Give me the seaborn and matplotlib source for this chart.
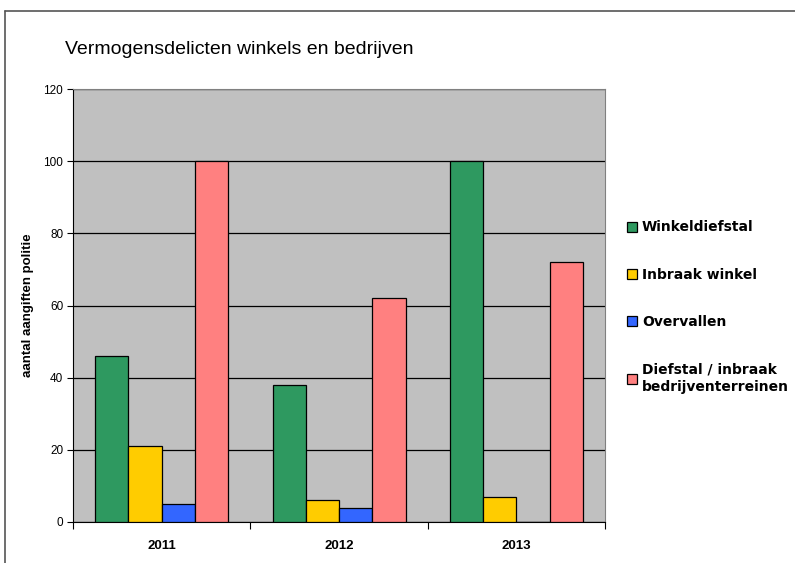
import numpy as np
import pandas as pd
import matplotlib
matplotlib.use('Agg')
import matplotlib.pyplot as plt
from matplotlib.lines import Line2D
import seaborn as sns

# ── Data ─────────────────────────────────────────────────────
years      = ['2011', '2012', '2013']
categories = ['Winkeldiefstal', 'Inbraak winkel', 'Overvallen',
              'Diefstal / inbraak\nbedrijventerreinen']
winkeldiefstal = [46, 38, 100]
inbraak_winkel = [21, 6, 7]
overvallen     = [5, 4, 0]
bedrijven      = [100, 62, 72]
colors = ['#2E9960', '#FFCC00', '#3366FF', '#FF8080']

df = pd.DataFrame({
    'jaar': years * 4,
    'soort': np.repeat(categories, len(years)),
    'aantal': winkeldiefstal + inbraak_winkel + overvallen + bedrijven,
})

sns.set_style('white')
plt.rcParams['font.family'] = ['Liberation Sans', 'DejaVu Sans']
plt.rcParams['text.color'] = 'black'
plt.rcParams['xtick.color'] = 'black'
plt.rcParams['ytick.color'] = 'black'
plt.rcParams['axes.labelcolor'] = 'black'

fig = plt.figure(figsize=(7.95, 5.63), dpi=100)
ax = fig.add_axes([73 / 795, 41 / 563, 532 / 795, 433 / 563])
ax.set_facecolor('#C0C0C0')

sns.barplot(data=df, x='jaar', y='aantal', hue='soort', palette=colors,
            saturation=1, width=0.75, gap=0, edgecolor='black',
            linewidth=0.9, ax=ax, zorder=3)

ax.set_ylim(0, 120)
ax.set_xlim(-0.5, 2.5)
ax.set_yticks(range(0, 121, 20))
ax.yaxis.grid(True, color='black', linewidth=0.9, zorder=1)
ax.set_axisbelow(True)
for s in ['top', 'right']:
    ax.spines[s].set_color('#808080')
    ax.spines[s].set_linewidth(0.8)
ax.spines['left'].set_color('black')
ax.spines['bottom'].set_color('black')

ax.tick_params(axis='y', direction='out', length=4, width=0.8, labelsize=8.5,
               left=True, pad=3)
ax.tick_params(axis='x', which='major', length=0, labelsize=9.5, pad=13)
ax.set_xticks([-0.5, 0.5, 1.5, 2.5], minor=True)
ax.tick_params(axis='x', which='minor', direction='out', length=5, width=0.8,
               bottom=True)
for lbl in ax.get_xticklabels():
    lbl.set_fontweight('bold')

ax.set_xlabel('')
ax.set_ylabel('aantal aangiften politie', fontsize=9.5, fontweight='bold',
              labelpad=7)

fig.text(65 / 795, 1 - 50 / 563, 'Vermogensdelicten winkels en bedrijven',
         fontsize=14, va='center', ha='left')

handles, labels = ax.get_legend_handles_labels()
ax.get_legend().remove()
leg = fig.legend(handles, labels, loc='upper left',
                 bbox_to_anchor=(614 / 795, 1 - 208 / 563),
                 frameon=False, handlelength=0.75, handleheight=0.75,
                 handletextpad=0.35, labelspacing=2.4,
                 prop={'family': 'DejaVu Sans', 'weight': 'bold', 'size': 10})
for t in leg.get_texts():
    t.set_linespacing(1.3)

# outer chart-area border (partly cut off in the original)
fig.add_artist(Line2D([5 / 795, 1], [1 - 11 / 563, 1 - 11 / 563],
                      color='#555555', linewidth=1.2))
fig.add_artist(Line2D([5 / 795, 5 / 795], [0, 1 - 11 / 563],
                      color='#555555', linewidth=1.2))

plt.savefig('out.png', dpi=100)
